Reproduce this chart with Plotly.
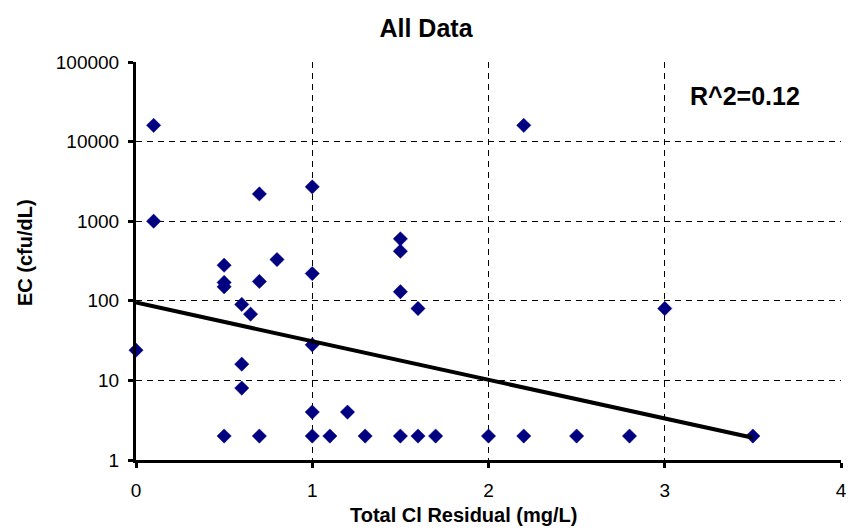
import plotly.graph_objects as go

# Data
cl_residual = [0, 0.1, 0.1, 0.5, 0.5, 0.5, 0.5, 0.6, 0.6, 0.6, 0.65, 0.7, 0.7, 0.7, 0.8,
               1.0, 1.0, 1.0, 1.0, 1.0, 1.1, 1.2, 1.3, 1.5, 1.5, 1.5, 1.5, 1.6, 1.6, 1.7,
               2.0, 2.2, 2.2, 2.5, 2.8, 3.0, 3.5]
ec_values = [24, 16000, 1000, 280, 170, 150, 2, 90, 16, 8, 68, 2200, 175, 2, 330,
             2700, 220, 28, 4, 2, 2, 4, 2, 600, 420, 130, 2, 80, 2, 2,
             2, 16000, 2, 2, 2, 80, 2]
trend_x = [0, 3.5]
trend_y = [95, 1.9]

x_ticks = [0, 1, 2, 3, 4]
y_ticks = [1, 10, 100, 1000, 10000, 100000]
y_tick_labels = ["1", "10", "100", "1000", "10000", "100000"]

FONT = "Liberation Sans, Arial, sans-serif"

W, H = 849, 530

fig = go.Figure()
fig.add_trace(go.Scatter(
    x=cl_residual, y=ec_values, mode="markers",
    marker=dict(symbol="diamond", size=11, color="#000080",
                line=dict(color="#000080", width=0.5)),
    showlegend=False, cliponaxis=False,
))
fig.add_trace(go.Scatter(
    x=trend_x, y=trend_y, mode="lines",
    line=dict(color="black", width=4), showlegend=False,
))

fig.update_layout(
    width=W, height=H,
    margin=dict(l=136, r=8, t=62, b=70),
    paper_bgcolor="white", plot_bgcolor="white",
    font=dict(family=FONT, color="black", size=19),
    title=dict(text="<b>All Data</b>", x=426 / W, xanchor="center",
               y=1 - 28 / H, yanchor="middle", xref="container", yref="container",
               font=dict(size=25, family=FONT, color="black")),
    xaxis=dict(range=[0, 4], tickvals=x_ticks, showline=True, linecolor="black",
               linewidth=3, ticks="outside", ticklen=5, tickwidth=3, tickcolor="black",
               showgrid=True, gridcolor="black", gridwidth=1, griddash="6px,5px",
               zeroline=False, tickfont=dict(size=19), ticklabelstandoff=6,
               automargin=False),
    yaxis=dict(type="log", range=[0, 5], tickvals=y_ticks, ticktext=y_tick_labels,
               showline=True, linecolor="black", linewidth=3, ticks="outside",
               ticklen=5, tickwidth=3, tickcolor="black",
               showgrid=True, gridcolor="black", gridwidth=1, griddash="6px,5px",
               zeroline=False, tickfont=dict(size=19), ticklabelstandoff=5,
               automargin=False),
    annotations=[
        dict(text="<b>R^2=0.12</b>", xref="paper", yref="paper",
             x=(745 - 136) / 705, y=(460 - 96) / 398, xanchor="center", yanchor="middle",
             showarrow=False, font=dict(size=25, family=FONT, color="black")),
        dict(text="<b>Total Cl Residual (mg/L)</b>", xref="paper", yref="paper",
             x=(463 - 136) / 705, y=(460 - 515) / 398, xanchor="center", yanchor="middle",
             showarrow=False, font=dict(size=20, family=FONT, color="black")),
        dict(text="<b>EC (cfu/dL)</b>", xref="paper", yref="paper",
             x=(25 - 136) / 705, y=(460 - 253) / 398, xanchor="center", yanchor="middle",
             textangle=-90, showarrow=False, font=dict(size=20, family=FONT, color="black")),
    ],
)

fig.write_html(
    "out.html",
    config={"displayModeBar": False},
    post_script="document.body.style.margin='0';document.body.style.overflow='hidden';",
)
